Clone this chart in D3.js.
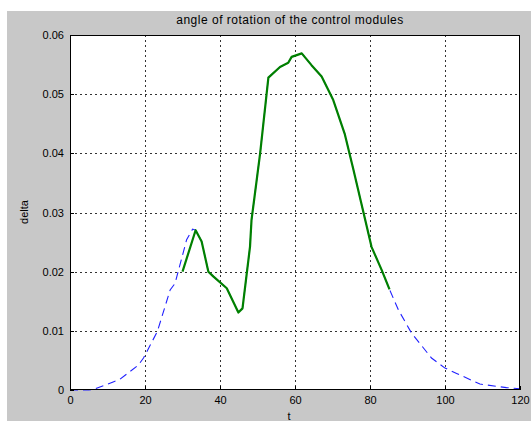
<!DOCTYPE html>
<html><head><meta charset="utf-8">
<script src="https://cdn.jsdelivr.net/npm/d3@7"></script>
<style>html,body{margin:0;padding:0;background:#fff;}svg{display:block;}</style>
</head><body>
<script>
const titleText = "angle of rotation of the control modules";
const xLabel = "t";
const yLabel = "delta";
const xTicks = [0, 20, 40, 60, 80, 100, 120];
const yTicks = [0, 0.01, 0.02, 0.03, 0.04, 0.05, 0.06];
const yTickLabels = ["0", "0.01", "0.02", "0.03", "0.04", "0.05", "0.06"];

// blue dashed series (under the green line in the middle)
const blueT = [0, 5, 6.7, 11.5, 13.3, 18.2, 19.6, 23.3, 26.7, 28, 29.3, 31.1, 32.7, 33.5, 35.1, 36.9, 38.2, 41.8, 44.9, 46, 48, 48.4, 50.7, 52.9, 56, 58.2, 59.1, 61.8, 64.4, 67.1, 70.2, 73.3, 75.6, 78.7, 80.4, 83.1, 85.2, 87.6, 91.1, 96.4, 100, 103.1, 109.3, 116.4, 120];
const blueV = [0, 0, 0.0002, 0.00135, 0.0018, 0.0042, 0.0054, 0.0099, 0.0169, 0.018, 0.0211, 0.0254, 0.0272, 0.027, 0.0251, 0.020, 0.0192, 0.0172, 0.0131, 0.0138, 0.0242, 0.0287, 0.040, 0.0528, 0.0546, 0.0553, 0.0563, 0.0569, 0.0549, 0.053, 0.049, 0.0432, 0.0372, 0.0288, 0.0242, 0.0203, 0.017, 0.0135, 0.0096, 0.0054, 0.0037, 0.0028, 0.001, 0.0004, 0.0002];

// green solid series
const greenT = [30, 33.5, 35.1, 36.9, 38.2, 41.8, 44.9, 46, 48, 48.4, 50.7, 52.9, 56, 58.2, 59.1, 61.8, 64.4, 67.1, 70.2, 73.3, 75.6, 78.7, 80.4, 83.1, 85.2];
const greenV = [0.020, 0.027, 0.0251, 0.020, 0.0192, 0.0172, 0.0131, 0.0138, 0.0242, 0.0287, 0.040, 0.0528, 0.0546, 0.0553, 0.0563, 0.0569, 0.0549, 0.053, 0.049, 0.0432, 0.0372, 0.0288, 0.0242, 0.0203, 0.017];

const W = 531, H = 421;
const L = 70, R = 520, T = 35, B = 390;
const FONT = "Liberation Sans, Arial, sans-serif";

const svg = d3.select("body").append("svg").attr("width", W).attr("height", H);
svg.append("rect").attr("x", 7).attr("y", 11).attr("width", W - 7).attr("height", H - 11).attr("fill", "#c8c8c8");
svg.append("rect").attr("x", L).attr("y", T).attr("width", R - L).attr("height", B - T).attr("fill", "#fff");

const x = d3.scaleLinear().domain([0, 120]).range([L, R]);
const y = d3.scaleLinear().domain([0, 0.06]).range([B, T]);

// grid
const g = svg.append("g");
g.selectAll("line.vg").data(xTicks.slice(1, -1)).enter().append("line")
  .attr("x1", d => Math.round(x(d)) + 0.5).attr("x2", d => Math.round(x(d)) + 0.5)
  .attr("y1", T).attr("y2", B)
  .attr("stroke", "#333").attr("stroke-width", 1).attr("stroke-dasharray", "2,3");
g.selectAll("line.hg").data(yTicks.slice(1, -1)).enter().append("line")
  .attr("y1", d => Math.round(y(d)) + 0.5).attr("y2", d => Math.round(y(d)) + 0.5)
  .attr("x1", L).attr("x2", R)
  .attr("stroke", "#333").attr("stroke-width", 1).attr("stroke-dasharray", "2,3");

// lines
const line = d3.line().x(d => x(d[0])).y(d => y(d[1]));
svg.append("path").datum(blueT.map((t, i) => [t, blueV[i]]))
  .attr("d", line).attr("fill", "none").attr("stroke", "#2020ff").attr("stroke-width", 1.1)
  .attr("stroke-dasharray", "8,5");
svg.append("path").datum(greenT.map((t, i) => [t, greenV[i]]))
  .attr("d", line).attr("fill", "none").attr("stroke", "#008000").attr("stroke-width", 2.2)
  .attr("stroke-linejoin", "round");

// axes
const xAxis = d3.axisBottom(x).tickValues(xTicks).tickSize(0).tickPadding(6).tickFormat(d3.format("d"));
const yAxis = d3.axisLeft(y).tickValues(yTicks).tickSize(0).tickPadding(6).tickFormat((d, i) => yTickLabels[i]);
const xa = svg.append("g").attr("transform", `translate(0,${B})`).call(xAxis);
const ya = svg.append("g").attr("transform", `translate(${L},0)`).call(yAxis);
[xa, ya].forEach(a => {
  a.select(".domain").remove();
  a.selectAll("text").attr("font-family", FONT).attr("font-size", "11px").attr("fill", "#000");
});

// box
svg.append("rect").attr("x", L + 0.5).attr("y", T + 0.5).attr("width", R - L - 1).attr("height", B - T - 1)
  .attr("fill", "none").attr("stroke", "#000").attr("stroke-width", 1);
svg.selectAll("line.xt").data(xTicks).enter().append("line")
  .attr("x1", d => Math.round(x(d)) + 0.5).attr("x2", d => Math.round(x(d)) + 0.5)
  .attr("y1", B).attr("y2", B - 4).attr("stroke", "#000");
svg.selectAll("line.yt").data(yTicks).enter().append("line")
  .attr("y1", d => Math.round(y(d)) + 0.5).attr("y2", d => Math.round(y(d)) + 0.5)
  .attr("x1", L).attr("x2", L + 4).attr("stroke", "#000");

// texts
svg.append("text").attr("x", 290).attr("y", 24).attr("text-anchor", "middle")
  .attr("font-family", FONT).attr("font-size", "12px").attr("letter-spacing", "0.5px").attr("fill", "#000")
  .text(titleText);
svg.append("text").attr("x", 289).attr("y", 420).attr("text-anchor", "middle")
  .attr("font-family", FONT).attr("font-size", "11px").attr("fill", "#000")
  .text(xLabel);
svg.append("text").attr("transform", "translate(28,212) rotate(-90)").attr("text-anchor", "middle")
  .attr("font-family", FONT).attr("font-size", "11px").attr("fill", "#000")
  .text(yLabel);
</script>
</body></html>
